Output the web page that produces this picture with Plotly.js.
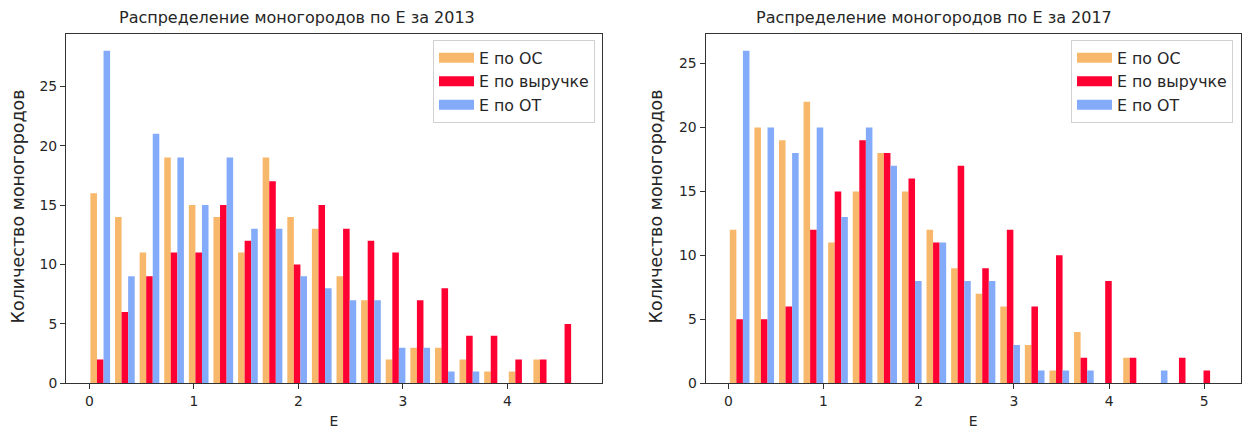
<!DOCTYPE html>
<html><head><meta charset="utf-8">
<script src="https://cdn.plot.ly/plotly-3.0.1.min.js"></script>
<style>html,body{margin:0;padding:0;background:#fff}#chart{width:1245px;height:432px}</style>
</head><body><div id="chart"></div><script>
// Series names
const seriesNames = ['Е по ОС', 'Е по выручке', 'Е по ОТ'];
const seriesColors = ['#f8b86b', '#ff0033', '#84abf9'];

// 2013 histogram: bin edges (start, width) and counts per bin
const binStart2013 = -0.014;
const binWidth2013 = 0.2355;
const os2013  = [16,14,11,19,15,14,11,19,14,13, 9, 7, 2, 3, 3, 2, 1, 1, 2, 0];
const rev2013 = [ 2, 6, 9,11,11,15,12,17,10,15,13,12,11, 7, 8, 4, 4, 2, 2, 5];
const ot2013  = [28, 9,21,19,15,19,13,13, 9, 8, 7, 7, 3, 3, 1, 1, 0, 0, 0, 0];

// 2017 histogram
const binStart2017 = -0.010;
const binWidth2017 = 0.2583;
const os2017  = [12,20,19,22,11,15,18,15,12, 9, 7, 6, 3, 1, 4, 0, 2, 0, 0, 0];
const rev2017 = [ 5, 5, 6,12,15,19,18,16,11,17, 9,12, 6,10, 2, 8, 2, 0, 2, 1];
const ot2017  = [26,20,18,20,13,20,17, 8,11, 8, 8, 3, 1, 1, 1, 0, 0, 1, 0, 0];

const titles = ['Распределение моногородов по Е за 2013', 'Распределение моногородов по Е за 2017'];
const xLabel = 'E';
const yLabel = 'Количество моногородов';

function centers(start, w, n) { const c = []; for (let i = 0; i < n; i++) c.push(start + (i + 0.5) * w); return c; }

const font = "DejaVu Sans, Verdana, sans-serif";
const txt = '#262626';

const panels = [
  {xa: 'x', ya: 'y', legend: 'legend', x: centers(binStart2013, binWidth2013, os2013.length), series: [os2013, rev2013, ot2013]},
  {xa: 'x2', ya: 'y2', legend: 'legend2', x: centers(binStart2017, binWidth2017, os2017.length), series: [os2017, rev2017, ot2017]}
];

const traces = [];
panels.forEach((p, pi) => {
  p.series.forEach((vals, si) => {
    traces.push({type: 'bar', x: p.x, y: vals, xaxis: p.xa, yaxis: p.ya, name: seriesNames[si],
      marker: {color: seriesColors[si], line: {width: 0}}, showlegend: false,
      legendgroup: 'g' + pi + si, hoverinfo: 'x+y+name'});
  });
  seriesNames.forEach((nm, si) => {
    traces.push({type: 'scatter', mode: 'lines', x: [null], y: [null], xaxis: p.xa, yaxis: p.ya,
      name: nm, legend: p.legend, legendgroup: 'g' + pi + si,
      line: {color: seriesColors[si], width: 10}, hoverinfo: 'skip'});
  });
});

const axBase = {showline: true, mirror: true, linecolor: '#333', linewidth: 1, ticks: 'outside',
  ticklen: 5, tickwidth: 1, tickcolor: '#333', showgrid: false, zeroline: false,
  tickfont: {family: font, size: 13.9, color: txt}, automargin: false};

const yDom = [48.7 / 432, 398 / 432];
const legFont = {family: font, size: 15.8, color: txt};
const labFont = {family: font, size: 17.5, color: txt};

const layout = {
  width: 1245, height: 432, margin: {l: 0, r: 0, t: 0, b: 0},
  paper_bgcolor: '#fff', plot_bgcolor: '#fff',
  barmode: 'group', bargap: 0.2, bargroupgap: 0,
  font: {family: font, color: txt},
  xaxis: Object.assign({}, axBase, {domain: [66 / 1245, 602 / 1245], range: [-0.224, 4.905], dtick: 1, tick0: 0,
    title: {text: xLabel, font: {family: font, size: 13.9, color: txt}, standoff: 8}}),
  yaxis: Object.assign({}, axBase, {domain: yDom, range: [0, 29.4], dtick: 5, tick0: 0}),
  xaxis2: Object.assign({}, axBase, {anchor: 'y2', domain: [705.5 / 1245, 1241 / 1245], range: [-0.2395, 5.386], dtick: 1, tick0: 0,
    title: {text: xLabel, font: {family: font, size: 13.9, color: txt}, standoff: 8}}),
  yaxis2: Object.assign({}, axBase, {anchor: 'x2', domain: yDom, range: [0, 27.3], dtick: 5, tick0: 0}),
  legend: {x: 595 / 1245, xanchor: 'right', y: 1 - 40 / 432, yanchor: 'top', bgcolor: 'rgba(255,255,255,0.8)',
    bordercolor: '#d0d0d0', borderwidth: 1, font: legFont, itemwidth: 35, tracegroupgap: 0},
  legend2: {x: 1233 / 1245, xanchor: 'right', y: 1 - 40 / 432, yanchor: 'top', bgcolor: 'rgba(255,255,255,0.8)',
    bordercolor: '#d0d0d0', borderwidth: 1, font: legFont, itemwidth: 35, tracegroupgap: 0},
  annotations: [
    {text: titles[0], xref: 'paper', yref: 'paper', x: 297 / 1245, y: 1 - 29.5 / 432, xanchor: 'center', yanchor: 'bottom',
      showarrow: false, font: {family: font, size: 16, color: txt}},
    {text: titles[1], xref: 'paper', yref: 'paper', x: 934 / 1245, y: 1 - 29.5 / 432, xanchor: 'center', yanchor: 'bottom',
      showarrow: false, font: {family: font, size: 16, color: txt}},
    {text: yLabel, xref: 'paper', yref: 'paper', x: 17 / 1245, y: 1 - 206.5 / 432, xanchor: 'center', yanchor: 'middle',
      textangle: -90, showarrow: false, font: labFont},
    {text: yLabel, xref: 'paper', yref: 'paper', x: 655 / 1245, y: 1 - 206.5 / 432, xanchor: 'center', yanchor: 'middle',
      textangle: -90, showarrow: false, font: labFont}
  ]
};

Plotly.newPlot('chart', traces, layout, {displayModeBar: false, staticPlot: true});
</script></body></html>
